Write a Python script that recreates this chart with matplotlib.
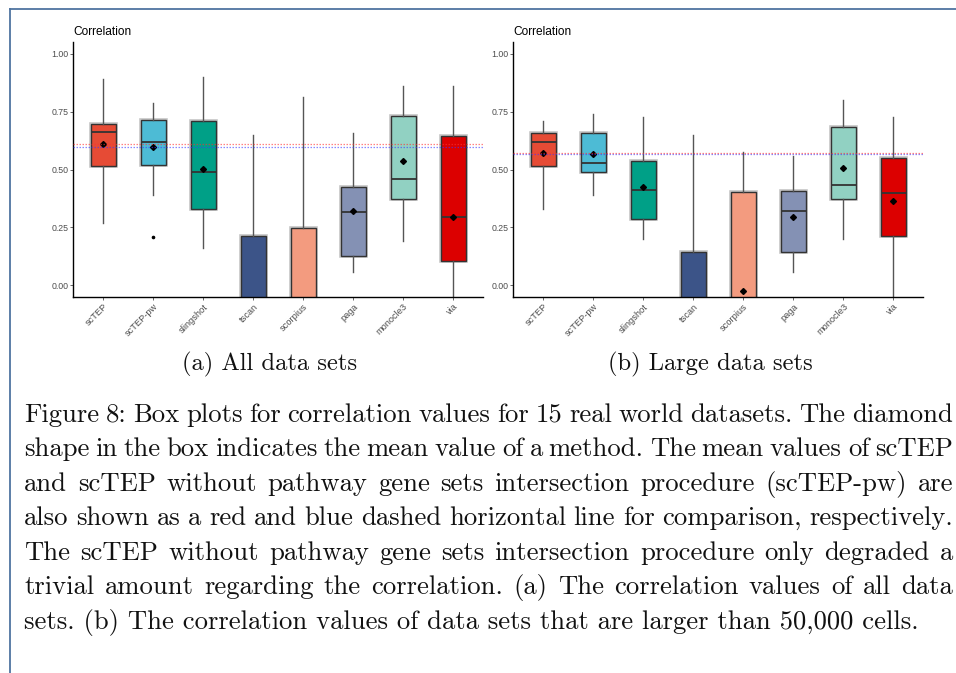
import matplotlib
matplotlib.use("Agg")
import matplotlib.pyplot as plt
from matplotlib.lines import Line2D
from matplotlib import patheffects

W, H = 956, 673
DPI = 100

methods = ["scTEP", "scTEP-pw", "slingshot", "tscan", "scorpius", "paga", "monocle3", "via"]
colors = ["#E64B35", "#4DBBD5", "#00A087", "#3C5488", "#F39B7F", "#8491B4", "#91D1C2", "#DC0000"]

# (a) all data sets
all_whislo = [0.271, 0.391, 0.161, -0.40, -0.30, 0.060, 0.191, -0.20]
all_q1 = [0.516, 0.520, 0.330, -0.25, -0.20, 0.125, 0.374, 0.107]
all_med = [0.660, 0.620, 0.490, -0.12, -0.10, 0.315, 0.460, 0.295]
all_q3 = [0.695, 0.715, 0.711, 0.215, 0.249, 0.425, 0.731, 0.645]
all_whishi = [0.890, 0.788, 0.900, 0.650, 0.811, 0.659, 0.860, 0.860]
all_mean = [0.609, 0.599, 0.501, -0.08, -0.07, 0.322, 0.535, 0.297]
all_outliers = [[], [0.209], [], [], [], [], [], []]

# (b) large data sets (> 50,000 cells)
large_whislo = [0.331, 0.391, 0.201, -0.35, -0.35, 0.060, 0.201, -0.15]
large_q1 = [0.516, 0.490, 0.285, -0.25, -0.25, 0.142, 0.374, 0.212]
large_med = [0.619, 0.530, 0.410, -0.10, -0.12, 0.320, 0.431, 0.400]
large_q3 = [0.659, 0.659, 0.535, 0.143, 0.404, 0.407, 0.685, 0.550]
large_whishi = [0.709, 0.739, 0.728, 0.649, 0.577, 0.559, 0.801, 0.728]
large_mean = [0.573, 0.566, 0.425, -0.09, -0.023, 0.297, 0.507, 0.363]
large_outliers = [[], [], [], [], [], [], [], []]

y_ticks = [0.00, 0.25, 0.50, 0.75, 1.00]

subcaptions = ["(a) All data sets", "(b) Large data sets"]
caption_lines = [
    "Figure 8: Box plots for correlation values for 15 real world datasets. The diamond",
    "shape in the box indicates the mean value of a method. The mean values of scTEP",
    "and scTEP without pathway gene sets intersection procedure (scTEP-pw) are",
    "also shown as a red and blue dashed horizontal line for comparison, respectively.",
    "The scTEP without pathway gene sets intersection procedure only degraded a",
    "trivial amount regarding the correlation. (a) The correlation values of all data",
    "sets. (b) The correlation values of data sets that are larger than 50,000 cells.",
]

SANS = ["Liberation Sans", "DejaVu Sans"]
SERIF = "cmr10"
GREY = "#4D4D4D"


def fx(px):
    return px / W


def fy(py):
    return 1 - py / H


def draw_panel(ax, whislo, q1, med, q3, whishi, mean, outliers):
    stats = []
    for i, name in enumerate(methods):
        stats.append(dict(label=name, whislo=whislo[i], q1=q1[i], med=med[i],
                          q3=q3[i], whishi=whishi[i], mean=mean[i],
                          fliers=outliers[i]))
    pos = list(range(1, len(methods) + 1))
    res = ax.bxp(stats, positions=pos, widths=0.5, patch_artist=True,
                 showmeans=True, showcaps=False,
                 boxprops=dict(edgecolor="#333333", linewidth=1.0),
                 whiskerprops=dict(color="#555555", linewidth=1.0),
                 medianprops=dict(color="#333333", linewidth=1.3),
                 meanprops=dict(marker="D", markerfacecolor="black",
                                markeredgecolor="black", markersize=3.0),
                 flierprops=dict(marker="o", markerfacecolor="black",
                                 markeredgecolor="black", markersize=1.6))
    for patch, c in zip(res["boxes"], colors):
        patch.set_facecolor(c)
        patch.set_path_effects([patheffects.Stroke(linewidth=2.6, foreground="#c4c4c4"),
                                patheffects.Normal()])
    # scTEP-pw mean (blue) and scTEP mean (red) reference lines
    ax.axhline(mean[1], color="#3a3aff", lw=0.9, ls=(0, (1.2, 1.2)), alpha=0.6, zorder=3)
    ax.axhline(mean[0], color="#ff3030", lw=0.9, ls=(0, (1.2, 1.2)), alpha=0.6, zorder=3.1)

    ax.set_xlim(0.4, len(methods) + 0.6)
    ax.set_ylim(-0.05, 1.05)
    ax.set_yticks(y_ticks)
    ax.set_yticklabels([f"{v:.2f}" for v in y_ticks])
    ax.set_xticks(pos)
    ax.set_xticklabels(methods, rotation=45, ha="right", va="top",
                       rotation_mode="anchor")
    for s in ("top", "right"):
        ax.spines[s].set_visible(False)
    for s in ("left", "bottom"):
        ax.spines[s].set_linewidth(1.0)
        ax.spines[s].set_color("black")
    ax.tick_params(axis="y", labelsize=6.3, colors=GREY, length=2.2, width=0.6, pad=1.5)
    ax.tick_params(axis="x", labelsize=6.7, colors=GREY, length=2.2, width=0.6, pad=1.5)
    for lab in ax.get_xticklabels() + ax.get_yticklabels():
        lab.set_family(SANS)
        lab.set_color(GREY)


fig = plt.figure(figsize=(W / DPI, H / DPI), dpi=DPI)
fig.patch.set_facecolor("white")

ax_a = fig.add_axes([fx(73.3), fy(297), fx(483) - fx(73.3), fy(42) - fy(297)])
ax_b = fig.add_axes([fx(513.3), fy(297), fx(923.3) - fx(513.3), fy(42) - fy(297)])

draw_panel(ax_a, all_whislo, all_q1, all_med, all_q3, all_whishi, all_mean, all_outliers)
draw_panel(ax_b, large_whislo, large_q1, large_med, large_q3, large_whishi, large_mean,
           large_outliers)

for x0 in (73.3, 513.3):
    fig.text(fx(x0), fy(32), "Correlation", ha="left", va="center",
             family=SANS, fontsize=8.6, color="black")

# frame around the figure block
fig.add_artist(Line2D([fx(10), 1.0], [fy(8.5), fy(8.5)], transform=fig.transFigure,
                      color="#4F74A0", lw=1.3))
fig.add_artist(Line2D([fx(10), fx(10)], [fy(8.5), 0.0], transform=fig.transFigure,
                      color="#4F74A0", lw=1.3))

SUB_SIZE = 17.7
CAP_SIZE = 19.2
for cx, txt in zip((270, 710), subcaptions):
    fig.text(fx(cx), fy(364), txt, ha="center", va="center", family=SERIF,
             fontsize=SUB_SIZE, color="#111111")

# justified caption block
renderer = fig.canvas.get_renderer()
left_px, right_px = 24, 953
line_y = [415, 449.5, 484, 518.5, 553, 587.5, 622]
for i, (line, yy) in enumerate(zip(caption_lines, line_y)):
    if i == len(caption_lines) - 1:
        fig.text(fx(left_px), fy(yy), line, ha="left", va="center", family=SERIF,
                 fontsize=CAP_SIZE, color="#111111")
        continue
    words = line.split(" ")
    arts = [fig.text(0, fy(yy), w, ha="left", va="center", family=SERIF,
                     fontsize=CAP_SIZE, color="#111111") for w in words]
    widths = [a.get_window_extent(renderer).width for a in arts]
    gap = (right_px - left_px - sum(widths)) / (len(words) - 1)
    x = left_px
    for a, w in zip(arts, widths):
        a.set_x(fx(x))
        x += w + gap

fig.savefig("out.png", dpi=DPI, facecolor="white")
